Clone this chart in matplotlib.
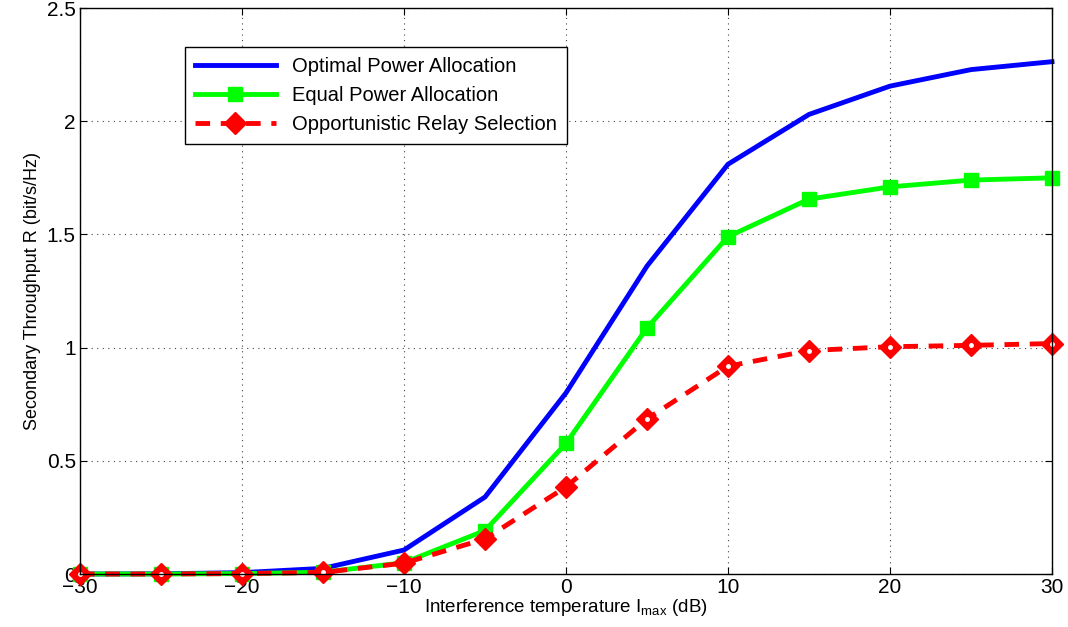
import numpy as np
import matplotlib
matplotlib.use('Agg')
import matplotlib.pyplot as plt

plt.rcParams['font.family'] = ['Liberation Sans', 'DejaVu Sans']

imax = [-30, -25, -20, -15, -10, -5, 0, 5, 10, 15, 20, 25, 30]
opt = [0.0, 0.001, 0.006, 0.025, 0.106, 0.34, 0.80, 1.36, 1.81, 2.03, 2.155, 2.228, 2.263]
equal = [0.0, 0.0, 0.002, 0.008, 0.05, 0.192, 0.577, 1.087, 1.49, 1.656, 1.71, 1.74, 1.75]
ors = [0.0, 0.0, 0.002, 0.007, 0.048, 0.155, 0.385, 0.685, 0.918, 0.987, 1.004, 1.01, 1.018]

fig = plt.figure(figsize=(10.68, 6.27), dpi=100)
ax = fig.add_axes([0.0749, 0.0845, 0.9101, 0.9027])

ax.plot(imax, opt, '-', color='#0000ff', lw=3.5, label='Optimal Power Allocation',
        clip_on=False)
ax.plot(imax, equal, '-s', color='#00ff00', lw=3.5, ms=10, clip_on=False,
        label='Equal Power Allocation')
ax.plot(imax, ors, '--D', color='#ff0000', lw=3.5, ms=11, dashes=(3, 2.2),
        clip_on=False, label='Opportunistic Relay Selection')
# small white centres visible on most diamonds
ax.plot(imax, ors, 'o', color='white', ms=2.5, ls='none', clip_on=False,
        markevery=[0, 1, 2, 3, 7, 8, 9, 10, 11, 12])

ax.set_xlim(-30, 30)
ax.set_ylim(0, 2.5)
ax.set_xticks(np.arange(-30, 31, 10))
ax.set_yticks(np.arange(0, 2.51, 0.5))
ax.set_xticklabels(['\u221230', '\u221220', '\u221210', '0', '10', '20', '30'])
ax.set_yticklabels(['0', '0.5', '1', '1.5', '2', '2.5'])
ax.tick_params(direction='in', top=True, right=True, labelsize=15, length=5, pad=3)
ax.grid(True, linestyle=(0, (1, 4)), color='#444444', lw=0.8)
for s in ax.spines.values():
    s.set_linewidth(1.0)

ax.set_xlabel('Interference temperature I$_{\\mathregular{max}}$ (dB)', fontsize=13.5, labelpad=0)
ax.set_ylabel('Secondary Throughput R (bit/s/Hz)', fontsize=13, labelpad=4)

leg = ax.legend(loc='upper left', bbox_to_anchor=(0.108, 0.932), fontsize=14.5,
                fancybox=False, edgecolor='black', framealpha=1, borderaxespad=0,
                handlelength=4.0, borderpad=0.5, labelspacing=0.5)
leg.get_frame().set_linewidth(1.0)

fig.savefig('out.png', dpi=100)
